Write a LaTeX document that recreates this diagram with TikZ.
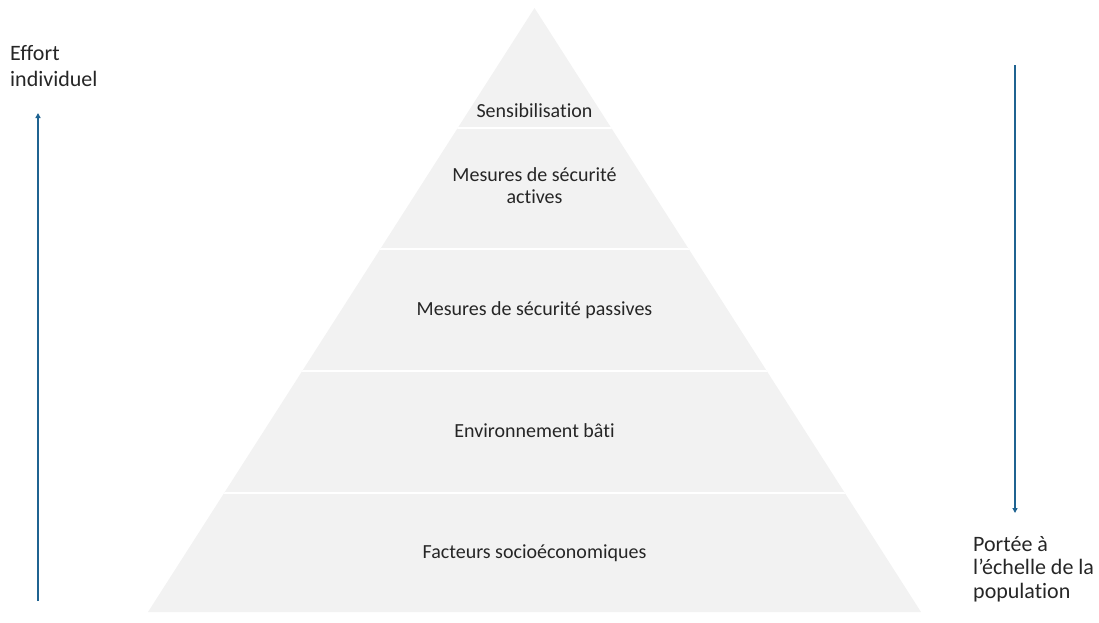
\documentclass[tikz,border=0pt]{standalone}
\usepackage{fontspec}
\setmainfont{Carlito}[Ligatures=NoCommon]
\usetikzlibrary{arrows.meta}
\definecolor{pyr}{HTML}{F2F2F2}
\definecolor{arr}{HTML}{1F6391}
\definecolor{txt}{HTML}{262626}
\begin{document}
\begin{tikzpicture}[x=1pt,y=-1pt,
  lbl/.style={font=\fontsize{20}{21.5}\selectfont, text=txt, align=center, anchor=base, inner sep=0pt},
  side/.style={font=\fontsize{22}{26}\selectfont, text=txt, align=left, anchor=base west, inner sep=0pt},
  sep/.style={white, line width=2pt},
  axis/.style={arr, line width=1.6pt, -{Triangle[length=5pt,width=5pt]}}]
\useasboundingbox (0,0) rectangle (1099,622);
\coordinate (apex) at (534.5,8);
\coordinate (bl) at (148,612);
\coordinate (br) at (921,612);
\fill[pyr] (apex) -- (br) -- (bl) -- cycle;
\begin{scope}
\clip (apex) -- (br) -- (bl) -- cycle;
\foreach \y in {127.5,248.5,370.5,492.5} \draw[sep] (100,\y) -- (1000,\y);
\end{scope}
\node[lbl] (s1) at (534.5,117) {Sensibilisation};
\node[lbl] (s2) at (534.5,203) {Mesures de sécurité\\actives};
\node[lbl] (s3) at (534.5,315) {Mesures de sécurité passives};
\node[lbl] (s4) at (534.5,437) {Environnement bâti};
\node[lbl] (s5) at (534.5,558) {Facteurs socioéconomiques};
\node[side] (lt) at (10,86) {Effort\\individuel};
\node[side, font=\fontsize{22}{23.5}\selectfont] (rt) at (973,598) {Portée à\\l’échelle de la\\population};
\coordinate (la) at (38,601);
\coordinate (lb) at (38,113);
\coordinate (ra) at (1015,65);
\coordinate (rb) at (1015,513);
\draw[axis] (la) -- (lb);
\draw[axis] (ra) -- (rb);
\end{tikzpicture}
\end{document}
